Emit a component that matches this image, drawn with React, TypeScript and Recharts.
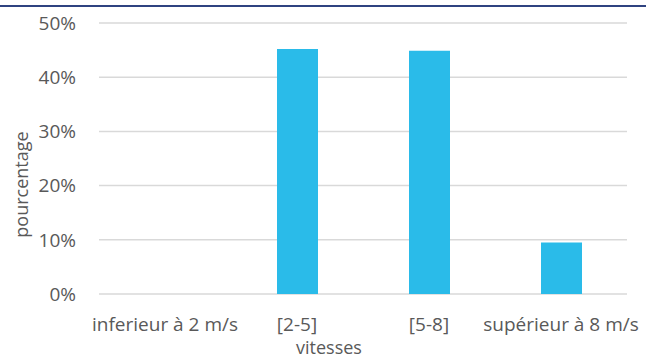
import { BarChart, Bar, XAxis, YAxis, CartesianGrid } from "recharts";

// wind speed classes and their share of observations
const vitesses = ["inferieur à 2 m/s", "[2-5]", "[5-8]", "supérieur à 8 m/s"];
const pourcentages = [0, 45.2, 44.9, 9.5];
const yTicks = [0, 10, 20, 30, 40, 50];

const data = vitesses.map((v, i) => ({ vitesse: v, pct: pourcentages[i] }));

const FONT = "'Open Sans', 'Noto Sans', sans-serif";
const TEXT = "#595959";

export default function App() {
    return (
        <div style={{ position: "absolute", left: 0, top: 0, width: 646, height: 360, background: "#fff", fontFamily: FONT }}>
            <div style={{ position: "absolute", left: 0, top: 5, width: 646, height: 2, background: "#2f4380" }} />
            <BarChart
                width={646}
                height={360}
                data={data}
                margin={{ top: 23, right: 19, left: 0, bottom: 0 }}
                barSize={41}
            >
                <CartesianGrid vertical={false} stroke="#d9d9d9" strokeWidth={1.5} />
                <XAxis
                    dataKey="vitesse"
                    height={66}
                    interval={0}
                    axisLine={false}
                    tickLine={false}
                    tickSize={0}
                    tickMargin={24}
                    tick={{ fill: TEXT, fontSize: 19, fontFamily: FONT }}
                    label={{ value: "vitesses", position: "insideBottom", offset: 6, dx: -34, fill: TEXT, fontSize: 18, fontFamily: FONT }}
                />
                <YAxis
                    width={99}
                    domain={[0, 50]}
                    ticks={yTicks}
                    tickFormatter={(v) => `${v}%`}
                    axisLine={false}
                    tickLine={false}
                    tickSize={0}
                    tickMargin={23}
                    tick={{ fill: TEXT, fontSize: 19, fontFamily: FONT }}
                    label={{ value: "pourcentage", angle: -90, position: "center", dx: -28, dy: 26, fill: TEXT, fontSize: 18, fontFamily: FONT }}
                />
                <Bar dataKey="pct" fill="#2abbe9" isAnimationActive={false} />
            </BarChart>
        </div>
    );
}
